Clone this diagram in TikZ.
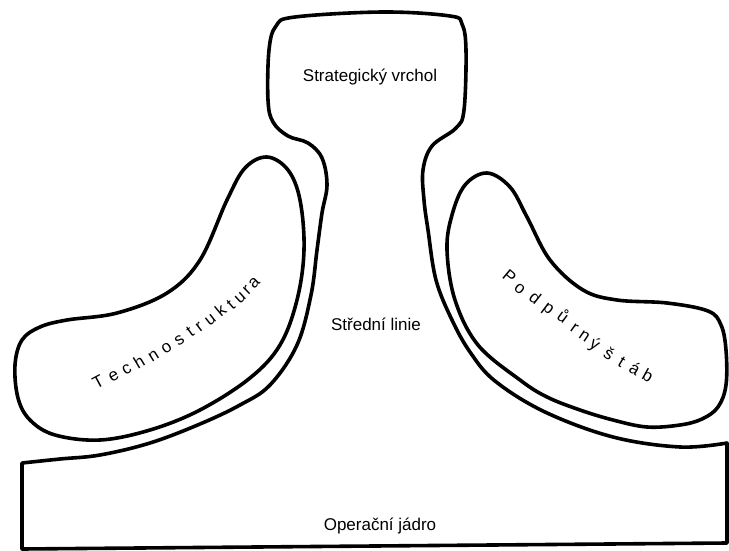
\documentclass[tikz,border=0pt]{standalone}
\usepackage{fontspec}
\setmainfont{Liberation Sans}
\begin{document}
\begin{tikzpicture}[x=1pt, y=-1pt,
    contour/.style={line width=3.6pt, line join=round, line cap=round},
    lbl/.style={font=\fontsize{17}{20}\selectfont, anchor=base, inner sep=0pt},
    ltr/.style={font=\fontsize{17}{19}\selectfont, inner sep=0pt,
                text height=1.2ex, text depth=0.4ex}]
    % --- bounding box (page = picture) ---
    \useasboundingbox (0,0) rectangle (729,551);

    % --- outer contour: strategic apex, middle line, operating core ---
    \draw[contour]
        (22,549) -- (22,470)
        -- plot[smooth, tension=0.6] coordinates {
            (22,463) (60,459) (100,455) (150,443) (200,424) (240,405)
            (270,385) (297,345) (311,295) (317,250) (322,213)
            (327,185) (322,158) (308,143) (288,136) (273,122) (268,100)
            (269,50) (276,26) (295,17) (383,12) (450,16) (462,24)
            (466,50) (464,110) (456,128) (432,146) (423,170) (424,200)
            (428,230) (436,280) (452,320) (470,352) (495,381) (545,412)
            (613,437) (680,447) (727,443)}
        -- (727,543) -- cycle;

    % --- technostructure (left) ---
    \draw[contour] plot[smooth cycle, tension=0.6] coordinates {
        (267,157) (288,170) (300,200) (304,250) (297,300) (280,345)
        (250,378) (200,410) (150,430) (100,440) (55,435)
        (30,420) (18,398) (15,365) (22,340) (40,327) (67,320)
        (117,313) (167,293) (200,260) (227,200) (245,168)};

    % --- support staff (right) ---
    \draw[contour] plot[smooth cycle, tension=0.6] coordinates {
        (487,173) (465,185) (452,215) (447,250) (455,300) (478,345)
        (520,380) (547,397) (580,410) (613,420) (647,427) (680,425)
        (702,419) (718,407) (726,385) (726,350) (721,325) (708,311)
        (667,303) (617,300) (583,290) (550,260) (527,217) (510,187)};

    % --- labels ---
    \node[lbl] (vrchol) at (370,82) {Strategický vrchol};
    \node[lbl] (linie) at (376,330) {Střední linie};
    \node[lbl] (jadro) at (380,530) {Operační jádro};

    % --- letter-spaced labels, letter by letter ---
    \foreach \ch/\x/\y/\a [count=\i] in {
            T/100/385/28, e/115/378/29, c/128/372/30, h/141/365/31,
            n/155/358/32, o/168/350/33, s/181/342/35, t/192/334/36,
            r/201/329/37, u/212/322/38, k/223/313/40, t/233/307/41,
            u/242/300/42, r/249/292/44, a/256/285/45} {
        \node[ltr, rotate=\a] (tech\i) at (\x,\y) {\ch};
    }
    \foreach \ch/\x/\y/\a [count=\i] in {
            P/507/280/-40, o/518/291/-39, d/533/301/-38, p/547/311/-37,
            ů/561/320/-36, r/573/330/-35, n/583/338/-34, ý/593/347/-33,
            š/607/357/-32, t/620/365/-31, á/633/372/-30, b/646/379/-29} {
        \node[ltr, rotate=\a] (stab\i) at (\x,\y) {\ch};
    }
\end{tikzpicture}
\end{document}
